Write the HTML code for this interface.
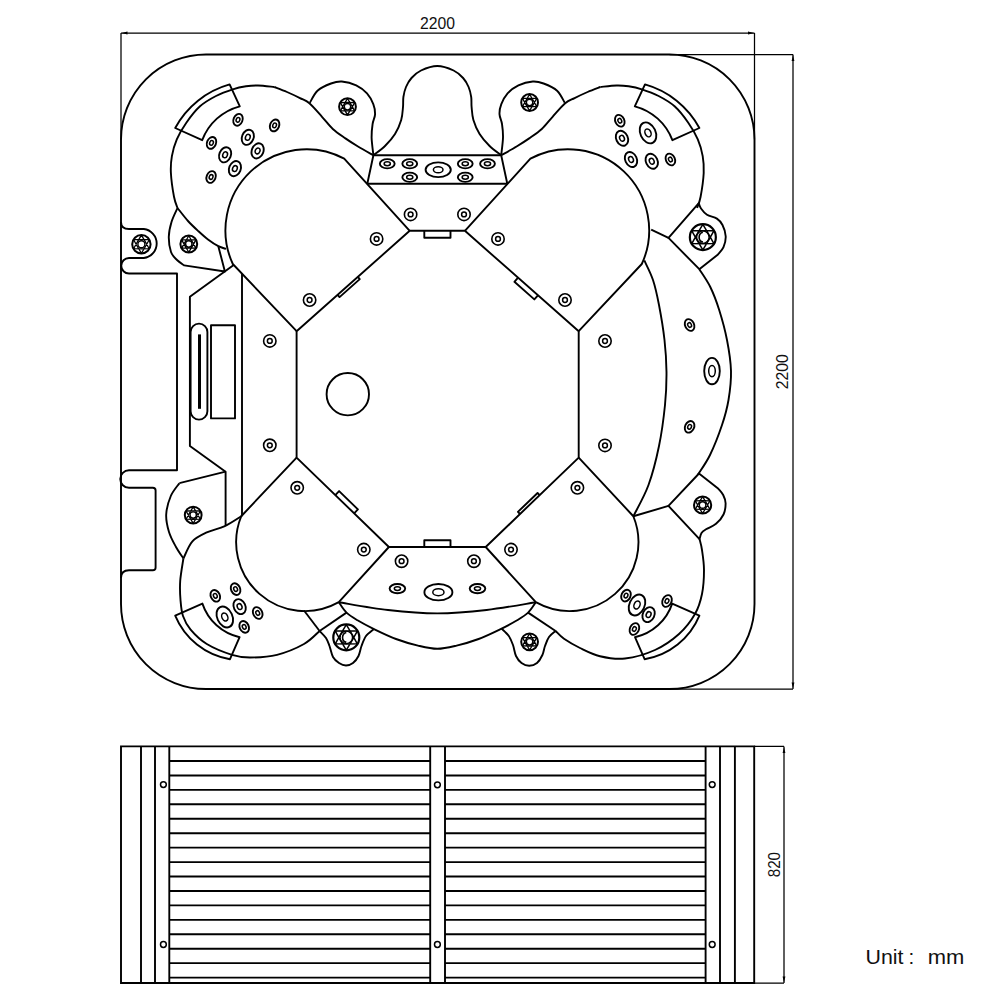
<!DOCTYPE html><html><head><meta charset="utf-8"><style>html,body{margin:0;padding:0;background:#fff;width:1000px;height:1000px;overflow:hidden}svg{display:block}</style></head><body>
<svg width="1000" height="1000" viewBox="0 0 1000 1000">
<g fill="none" stroke="#000" stroke-width="1.9" stroke-linejoin="round">
<path d="M121,139.5 A85,85 0 0 1 206,54.5 L669.5,54.5 A85,85 0 0 1 754.5,139.5 L754.5,604 A85,85 0 0 1 669.5,689 L206,689 A85,85 0 0 1 121,604 Z"/>
<path d="M121,222 Q121,229 129,229 L143.8,229 A14.6,14.6 0 0 1 143.8,258 L129,258 A7.5,7.5 0 0 0 129,273.5 L177,273.5 L177,470.3 L129,470.3 A8.75,8.75 0 0 0 129,487.8 L152.8,487.8 Q155.6,487.8 155.6,490.6 L155.6,567.4 Q155.6,570.2 152.8,570.2 L129,570.2 Q121,570.2 121,578"/>
<path d="M409.7,230.8 L464.9,230.8 L578.7,331.2 L578.7,457.6 L485.7,547 L388.9,547 L296.6,457.6 L296.6,331.2 Z"/>
<path d="M424.3,230.4 L424.3,237.8 L450.5,237.8 L450.5,230.4"/>
<path d="M424.3,547 L424.3,540.2 L450.5,540.2 L450.5,547"/>
<path d="M357.79,276.88 L359.78,279.13 L339.53,297.1 L337.54,294.86"/>
<path d="M518.04,277.69 L514.41,281.81 L534.32,299.38 L537.96,295.26"/>
<path d="M335.27,495.06 L339.1,491.11 L357.93,509.35 L354.1,513.3"/>
<path d="M539.64,495.15 L537.56,492.99 L517.94,511.85 L520.02,514.01"/>
<path d="M409.7,230.8 L344.2,158.6 A81,81 0 0 0 232.8,264 L296.6,331.2"/>
<path d="M464.9,230.8 L530.4,158.6 A81,81 0 0 1 641.8,264 L578.7,331.2"/>
<path d="M296.6,457.6 L241.25,516.25 A68.84,68.84 0 0 0 338.8,602.2 L388.9,547"/>
<path d="M578.7,457.6 L633.35,516.25 A68.84,68.84 0 0 1 535.8,602.2 L485.7,547"/>
<path d="M373.4,155.25 L501.2,155.25 M367.3,183.75 L507.3,183.75 M373.4,155.25 L367.3,183.75 M501.2,155.25 L507.3,183.75"/>
<path d="M373.4,155.25 C375.33,153.71 381.4,149.54 385,146 C388.6,142.46 392.3,138.33 395,134 C397.7,129.67 399.87,124.5 401.2,120 C402.53,115.5 402.63,110.83 403,107 C403.37,103.17 402.9,100.33 403.4,97 C403.9,93.67 404.65,90.17 406,87 C407.35,83.83 409,80.75 411.5,78 C414,75.25 416.7,72.5 421,70.5 C425.3,68.5 431.87,66 437.3,66 C442.73,66 449.3,68.5 453.6,70.5 C457.9,72.5 460.6,75.25 463.1,78 C465.6,80.75 467.25,83.83 468.6,87 C469.95,90.17 470.7,93.67 471.2,97 C471.7,100.33 471.23,103.17 471.6,107 C471.97,110.83 472.07,115.5 473.4,120 C474.73,124.5 476.9,129.67 479.6,134 C482.3,138.33 486,142.46 489.6,146 C493.2,149.54 499.27,153.71 501.2,155.25"/>
<path d="M177.5,208 C176.92,206.13 175.1,202.63 174,196.8 C172.9,190.97 171.25,179.77 170.9,173 C170.55,166.23 170.92,161.8 171.9,156.2 C172.88,150.6 174.37,145.02 176.8,139.4 C179.23,133.78 182.63,128.02 186.5,122.5 C190.37,116.98 195.08,110.72 200,106.3 C204.92,101.88 210.53,98.83 216,96 C221.47,93.17 227.8,90.92 232.8,89.3 C237.8,87.68 241.8,86.93 246,86.3 C250.2,85.67 253.3,85.38 258,85.5 C262.7,85.62 271.5,86.75 274.2,87"/>
<path d="M274.2,87 C276.33,87.83 282.7,90.15 287,92 C291.3,93.85 296.27,96.22 300,98.1 C303.73,99.98 305.73,100.18 309.4,103.3 C313.07,106.42 318.1,112.52 322,116.8 C325.9,121.08 328.9,125.4 332.8,129 C336.7,132.6 341.2,135.48 345.4,138.4 C349.6,141.32 353.33,143.69 358,146.5 C362.67,149.31 370.83,153.79 373.4,155.25"/>
<path d="M697.1,208 C697.68,206.13 699.5,202.63 700.6,196.8 C701.7,190.97 703.35,179.77 703.7,173 C704.05,166.23 703.68,161.8 702.7,156.2 C701.72,150.6 700.23,145.02 697.8,139.4 C695.37,133.78 691.97,128.02 688.1,122.5 C684.23,116.98 679.52,110.72 674.6,106.3 C669.68,101.88 664.07,98.83 658.6,96 C653.13,93.17 646.8,90.92 641.8,89.3 C636.8,87.68 632.8,86.93 628.6,86.3 C624.4,85.67 621.3,85.38 616.6,85.5 C611.9,85.62 603.1,86.75 600.4,87"/>
<path d="M600.4,87 C598.27,87.83 591.9,90.15 587.6,92 C583.3,93.85 578.33,96.22 574.6,98.1 C570.87,99.98 568.87,100.18 565.2,103.3 C561.53,106.42 556.5,112.52 552.6,116.8 C548.7,121.08 545.7,125.4 541.8,129 C537.9,132.6 533.4,135.48 529.2,138.4 C525,141.32 521.27,143.69 516.6,146.5 C511.93,149.31 503.77,153.79 501.2,155.25"/>
<path d="M309.85,102.85 C311.12,100.82 313.98,93.92 317.5,90.7 C321.02,87.48 326.95,85.03 331,83.5 C335.05,81.97 337.6,81.2 341.8,81.5 C346,81.8 352,83.32 356.2,85.3 C360.4,87.28 364.15,90.25 367,93.4 C369.85,96.55 371.95,100.75 373.3,104.2 C374.65,107.65 375.22,110.8 375.1,114.1 C374.98,117.4 373.18,120.1 372.6,124 C372.02,127.9 371.47,132.29 371.6,137.5 C371.73,142.71 373.1,152.29 373.4,155.25"/>
<path d="M564.75,102.85 C563.48,100.82 560.62,93.92 557.1,90.7 C553.58,87.48 547.65,85.03 543.6,83.5 C539.55,81.97 537,81.2 532.8,81.5 C528.6,81.8 522.6,83.32 518.4,85.3 C514.2,87.28 510.45,90.25 507.6,93.4 C504.75,96.55 502.65,100.75 501.3,104.2 C499.95,107.65 499.38,110.8 499.5,114.1 C499.62,117.4 501.42,120.1 502,124 C502.58,127.9 503.13,132.29 503,137.5 C502.87,142.71 501.5,152.29 501.2,155.25"/>
<path d="M177.5,208 C176.5,210.33 172.95,217.2 171.5,222 C170.05,226.8 168.88,231.8 168.8,236.8 C168.72,241.8 169.63,248.13 171,252 C172.37,255.87 174.8,257.77 177,260 C179.2,262.23 183,264.5 184.2,265.4 L224.9,271.5 L218.3,246.2"/>
<path d="M177.5,208 C179.25,210.17 184.5,217.12 188,221 C191.5,224.88 195.17,228.22 198.5,231.3 C201.83,234.38 204.7,237.02 208,239.5 C211.3,241.98 215.3,244.63 218.3,246.2 C221.3,247.77 224.72,248.45 226,248.9"/>
<path d="M233.7,264.9 L189.9,296.8 L189.9,446 L225.6,471.7 L225.6,525.5"/>
<path d="M242,273.7 L242,516.2"/>
<path d="M225.6,471.7 L179.4,483.2"/>
<path d="M179.4,483.2 C177.97,485.33 173,490.78 170.8,496 C168.6,501.22 166.5,508.5 166.2,514.5 C165.9,520.5 167.37,526.58 169,532 C170.63,537.42 173.6,542.58 176,547 C178.4,551.42 182.17,556.58 183.4,558.5"/>
<path d="M190.6,332 A8.4,8.4 0 0 1 207.4,332 L207.4,411.2 A8.4,8.4 0 0 1 190.6,411.2 Z"/>
<path d="M211,325.3 L235,325.3 L235,418.4 L211,418.4 Z"/>
<path d="M183.4,558.5 C184.9,555.65 188.5,545.75 192.4,541.4 C196.3,537.05 201.4,534.95 206.8,532.4 C212.2,529.85 219.06,528.79 224.8,526.1 C230.54,523.41 238.51,517.89 241.25,516.25"/>
<path d="M668.5,237.9 L698.8,203.2 C699.17,204.08 699.63,206.57 701,208.5 C702.37,210.43 704.35,213.07 707,214.75 C709.65,216.43 714.32,216.89 716.9,218.6 C719.48,220.31 721.03,222.07 722.5,225 C723.97,227.93 725.53,232.5 725.7,236.2 C725.87,239.9 724.78,244.15 723.5,247.2 C722.22,250.25 718.92,253.28 718,254.5 L699.3,269.2 Z"/>
<path d="M651.2,229.6 L668.5,237.9"/>
<path d="M699.3,269.2 C701.13,272.17 706.98,280.2 710.3,287 C713.62,293.8 716.42,301.17 719.2,310 C721.98,318.83 725.03,329.83 727,340 C728.97,350.17 730.75,361 731,371 C731.25,381 730,391 728.5,400 C727,409 725.08,415.83 722,425 C718.92,434.17 714,446.75 710,455 C706,463.25 700,471.25 698,474.5"/>
<path d="M644.3,260.4 C645.75,263.67 650.55,272.57 653,280 C655.45,287.43 657.08,295 659,305 C660.92,315 663.25,328.83 664.5,340 C665.75,351.17 666.42,361.17 666.5,372 C666.58,382.83 666.25,392.67 665,405 C663.75,417.33 661.75,432.67 659,446 C656.25,459.33 652.77,473.29 648.5,485 C644.23,496.71 635.88,511.04 633.35,516.25"/>
<path d="M668.45,505.9 L699,473.5 L718.4,488.8 C719.2,489.83 722,492.6 723.2,495 C724.4,497.4 725.55,499.95 725.6,503.2 C725.65,506.45 725.1,511.07 723.5,514.5 C721.9,517.93 718.92,521.33 716,523.8 C713.08,526.27 708.42,527.77 706,529.3 C703.58,530.83 702.58,531.35 701.5,533 C700.42,534.65 699.83,538.17 699.5,539.2 Z"/>
<path d="M633.35,516.25 L668.45,505.9"/>
<path d="M699.5,539 C699.92,540.83 701.25,544.83 702,550 C702.75,555.17 704,562.67 704,570 C704,577.33 703.5,586.67 702,594 C700.5,601.33 698.83,607.33 695,614 C691.17,620.67 685.67,628 679,634 C672.33,640 664,645.92 655,650 C646,654.08 634.17,657.47 625,658.5 C615.83,659.53 607.5,657.95 600,656.2 C592.5,654.45 586,650.9 580,648 C574,645.1 568.07,641.63 564,638.8 C559.93,635.97 557,632.3 555.6,631"/>
<path d="M555.6,631 L528.1,612.6"/>
<path d="M183.4,558.5 C182.87,562.25 180.68,574.08 180.2,581 C179.72,587.92 180.03,594.17 180.5,600 C180.97,605.83 181.32,611.07 183,616 C184.68,620.93 186.63,624.93 190.6,629.6 C194.57,634.27 199.9,639.8 206.8,644 C213.7,648.2 224.8,652.55 232,654.8 C239.2,657.05 242.5,657.5 250,657.5 C257.5,657.5 268,657.05 277,654.8 C286,652.55 296.9,647.97 304,644 C311.1,640.03 317,633.17 319.6,631"/>
<path d="M319.6,631 L346.5,612.6"/>
<path d="M304,610.5 L319.6,631"/>
<path d="M338.8,602.2 C347,603.5 371.58,608.13 388,610 C404.42,611.87 420.87,613.4 437.3,613.4 C453.73,613.4 470.18,611.87 486.6,610 C503.02,608.13 527.6,603.5 535.8,602.2"/>
<path d="M338.8,602.2 C340.08,603.93 343.38,609.58 346.5,612.6 C349.62,615.62 352.92,617.55 357.5,620.3 C362.08,623.05 367.58,625.98 374,629.1 C380.42,632.22 388.67,636.25 396,639 C403.33,641.75 411.12,643.97 418,645.6 C424.88,647.23 430.87,648.8 437.3,648.8 C443.73,648.8 449.72,647.23 456.6,645.6 C463.48,643.97 471.27,641.75 478.6,639 C485.93,636.25 494.18,632.22 500.6,629.1 C507.02,625.98 512.52,623.05 517.1,620.3 C521.68,617.55 524.98,615.62 528.1,612.6 C531.22,609.58 534.52,603.93 535.8,602.2"/>
<path d="M319.6,631 C320.67,632.17 324.35,635.5 326,638 C327.65,640.5 328.33,642.83 329.5,646 C330.67,649.17 331.42,654.17 333,657 C334.58,659.83 336.83,661.58 339,663 C341.17,664.42 343.67,665.5 346,665.5 C348.33,665.5 350.92,664.58 353,663 C355.08,661.42 357.08,658.83 358.5,656 C359.92,653.17 360.25,649.33 361.5,646 C362.75,642.67 363.98,638.8 366,636 C368.02,633.2 372.33,630.33 373.6,629.2"/>
<path d="M501.6,628.6 C502.8,629.83 506.9,633.27 508.8,636 C510.7,638.73 511.8,641.67 513,645 C514.2,648.33 514.58,653 516,656 C517.42,659 519.3,661.37 521.5,663 C523.7,664.63 526.62,665.8 529.2,665.8 C531.78,665.8 534.8,664.8 537,663 C539.2,661.2 541.07,657.83 542.4,655 C543.73,652.17 543.9,649 545,646 C546.1,643 547.23,639.5 549,637 C550.77,634.5 554.5,632 555.6,631"/>
<path d="M229.6,84.4 A89.37,89.37 0 0 0 175.2,128 L202.2,140.2 A54.98,54.98 0 0 1 239.8,106.3 Z"/>
<path d="M645,84.4 A89.37,89.37 0 0 1 699.4,128 L672.4,140.2 A54.98,54.98 0 0 0 634.8,106.3 Z"/>
<path d="M175.2,615.6 A72.21,72.21 0 0 0 230,659.2 L239.6,637.2 A50.96,50.96 0 0 1 202.4,603.6 Z"/>
<path d="M699.4,615.6 A72.21,72.21 0 0 1 644.6,659.2 L635,637.2 A50.96,50.96 0 0 0 672.2,603.6 Z"/>
<circle cx="347.8" cy="394.2" r="21.2"/>
<path d="M199.5,334.4 L199.5,408.8" stroke-width="3"/>
<circle cx="410.6" cy="214.4" r="6.2" stroke-width="1.6"/><circle cx="410.6" cy="214.4" r="2.4" stroke-width="1.5"/>
<circle cx="464" cy="214.4" r="6.2" stroke-width="1.6"/><circle cx="464" cy="214.4" r="2.4" stroke-width="1.5"/>
<circle cx="376.6" cy="238.9" r="6.2" stroke-width="1.6"/><circle cx="376.6" cy="238.9" r="2.4" stroke-width="1.5"/>
<circle cx="498" cy="238.9" r="6.2" stroke-width="1.6"/><circle cx="498" cy="238.9" r="2.4" stroke-width="1.5"/>
<circle cx="309.6" cy="300" r="6.2" stroke-width="1.6"/><circle cx="309.6" cy="300" r="2.4" stroke-width="1.5"/>
<circle cx="565" cy="300" r="6.2" stroke-width="1.6"/><circle cx="565" cy="300" r="2.4" stroke-width="1.5"/>
<circle cx="269.8" cy="340.9" r="6.2" stroke-width="1.6"/><circle cx="269.8" cy="340.9" r="2.4" stroke-width="1.5"/>
<circle cx="269.8" cy="445.3" r="6.2" stroke-width="1.6"/><circle cx="269.8" cy="445.3" r="2.4" stroke-width="1.5"/>
<circle cx="605" cy="341" r="6.2" stroke-width="1.6"/><circle cx="605" cy="341" r="2.4" stroke-width="1.5"/>
<circle cx="605" cy="445.4" r="6.2" stroke-width="1.6"/><circle cx="605" cy="445.4" r="2.4" stroke-width="1.5"/>
<circle cx="297.2" cy="487.8" r="6.2" stroke-width="1.6"/><circle cx="297.2" cy="487.8" r="2.4" stroke-width="1.5"/>
<circle cx="577.4" cy="487.8" r="6.2" stroke-width="1.6"/><circle cx="577.4" cy="487.8" r="2.4" stroke-width="1.5"/>
<circle cx="363.8" cy="549.6" r="6.2" stroke-width="1.6"/><circle cx="363.8" cy="549.6" r="2.4" stroke-width="1.5"/>
<circle cx="511" cy="549.6" r="6.2" stroke-width="1.6"/><circle cx="511" cy="549.6" r="2.4" stroke-width="1.5"/>
<circle cx="401.6" cy="561.2" r="6.2" stroke-width="1.6"/><circle cx="401.6" cy="561.2" r="2.4" stroke-width="1.5"/>
<circle cx="473.9" cy="561.2" r="6.2" stroke-width="1.6"/><circle cx="473.9" cy="561.2" r="2.4" stroke-width="1.5"/>
<g transform="translate(238,119.8) rotate(22)"><ellipse rx="4.5" ry="6.1"/><ellipse rx="1.8" ry="2.4" stroke-width="1.5"/></g>
<g transform="translate(274.6,125.4) rotate(22)"><ellipse rx="4.5" ry="6.1"/><ellipse rx="1.8" ry="2.4" stroke-width="1.5"/></g>
<g transform="translate(211.5,142.9) rotate(22)"><ellipse rx="4.5" ry="6.1"/><ellipse rx="1.8" ry="2.4" stroke-width="1.5"/></g>
<g transform="translate(211.1,177) rotate(22)"><ellipse rx="4.5" ry="6.1"/><ellipse rx="1.8" ry="2.4" stroke-width="1.5"/></g>
<g transform="translate(247.8,137.3) rotate(22)"><ellipse rx="5.8" ry="7.8"/><ellipse rx="2.3" ry="3.0" stroke-width="1.5"/></g>
<g transform="translate(257.6,150.9) rotate(22)"><ellipse rx="5.8" ry="7.8"/><ellipse rx="2.3" ry="3.0" stroke-width="1.5"/></g>
<g transform="translate(225.1,154.8) rotate(22)"><ellipse rx="5.8" ry="7.8"/><ellipse rx="2.3" ry="3.0" stroke-width="1.5"/></g>
<g transform="translate(234.9,168.6) rotate(22)"><ellipse rx="5.8" ry="7.8"/><ellipse rx="2.3" ry="3.0" stroke-width="1.5"/></g>
<g transform="translate(619.8,120.75) rotate(-25)"><ellipse rx="4.5" ry="6.1"/><ellipse rx="1.8" ry="2.4" stroke-width="1.5"/></g>
<g transform="translate(622,138.3) rotate(-25)"><ellipse rx="5.8" ry="7.8"/><ellipse rx="2.3" ry="3.0" stroke-width="1.5"/></g>
<g transform="translate(648,132.9) rotate(-25)"><ellipse rx="7.6" ry="11"/><ellipse rx="2.9" ry="4.1" stroke-width="1.5"/></g>
<g transform="translate(631,159.5) rotate(-25)"><ellipse rx="5.8" ry="7.8"/><ellipse rx="2.3" ry="3.0" stroke-width="1.5"/></g>
<g transform="translate(651.75,161.25) rotate(-25)"><ellipse rx="5.8" ry="7.8"/><ellipse rx="2.3" ry="3.0" stroke-width="1.5"/></g>
<g transform="translate(670.4,159.5) rotate(-25)"><ellipse rx="4.5" ry="6.1"/><ellipse rx="1.8" ry="2.4" stroke-width="1.5"/></g>
<g transform="translate(215.3,595.8) rotate(-25)"><ellipse rx="4.5" ry="6.1"/><ellipse rx="1.8" ry="2.4" stroke-width="1.5"/></g>
<g transform="translate(235.6,589.1) rotate(-25)"><ellipse rx="4.5" ry="6.1"/><ellipse rx="1.8" ry="2.4" stroke-width="1.5"/></g>
<g transform="translate(239.6,606.6) rotate(-25)"><ellipse rx="5.8" ry="7.8"/><ellipse rx="2.3" ry="3.0" stroke-width="1.5"/></g>
<g transform="translate(224.8,617) rotate(-25)"><ellipse rx="7.6" ry="11"/><ellipse rx="2.9" ry="4.1" stroke-width="1.5"/></g>
<g transform="translate(257.7,613) rotate(-25)"><ellipse rx="4.5" ry="6.1"/><ellipse rx="1.8" ry="2.4" stroke-width="1.5"/></g>
<g transform="translate(244.2,626.9) rotate(-25)"><ellipse rx="4.5" ry="6.1"/><ellipse rx="1.8" ry="2.4" stroke-width="1.5"/></g>
<g transform="translate(626,595.6) rotate(25)"><ellipse rx="4.5" ry="6.1"/><ellipse rx="1.8" ry="2.4" stroke-width="1.5"/></g>
<g transform="translate(637,605) rotate(25)"><ellipse rx="7.6" ry="11"/><ellipse rx="2.9" ry="4.1" stroke-width="1.5"/></g>
<g transform="translate(648.6,614.6) rotate(25)"><ellipse rx="5.8" ry="7.8"/><ellipse rx="2.3" ry="3.0" stroke-width="1.5"/></g>
<g transform="translate(634.4,629) rotate(25)"><ellipse rx="4.5" ry="6.1"/><ellipse rx="1.8" ry="2.4" stroke-width="1.5"/></g>
<g transform="translate(667,601) rotate(25)"><ellipse rx="4.5" ry="6.1"/><ellipse rx="1.8" ry="2.4" stroke-width="1.5"/></g>
<g transform="translate(689.6,325) rotate(-25)"><ellipse rx="4.5" ry="6.1"/><ellipse rx="1.8" ry="2.4" stroke-width="1.5"/></g>
<g transform="translate(712,371.1) rotate(0)"><ellipse rx="7.8" ry="13.2"/><ellipse rx="3.3" ry="5.6" stroke-width="1.5"/></g>
<g transform="translate(689.6,426.8) rotate(25)"><ellipse rx="4.5" ry="6.1"/><ellipse rx="1.8" ry="2.4" stroke-width="1.5"/></g>
<g transform="translate(387.25,163.75) rotate(0)"><ellipse rx="7.4" ry="4.6"/><ellipse rx="3.1" ry="1.9" stroke-width="1.5"/></g>
<g transform="translate(409.75,163.75) rotate(0)"><ellipse rx="7.4" ry="4.6"/><ellipse rx="3.1" ry="1.9" stroke-width="1.5"/></g>
<g transform="translate(465.25,163.75) rotate(0)"><ellipse rx="7.4" ry="4.6"/><ellipse rx="3.1" ry="1.9" stroke-width="1.5"/></g>
<g transform="translate(487.5,163.75) rotate(0)"><ellipse rx="7.4" ry="4.6"/><ellipse rx="3.1" ry="1.9" stroke-width="1.5"/></g>
<g transform="translate(409.75,177.25) rotate(0)"><ellipse rx="7.4" ry="4.6"/><ellipse rx="3.1" ry="1.9" stroke-width="1.5"/></g>
<g transform="translate(465.25,177.25) rotate(0)"><ellipse rx="7.4" ry="4.6"/><ellipse rx="3.1" ry="1.9" stroke-width="1.5"/></g>
<g transform="translate(438.2,169.75) rotate(0)"><ellipse rx="12.6" ry="7.4"/><ellipse rx="4.8" ry="3.1" stroke-width="1.5"/></g>
<g transform="translate(397.4,588.6) rotate(0)"><ellipse rx="7.8" ry="4.6"/><ellipse rx="3.1" ry="1.8" stroke-width="1.5"/></g>
<g transform="translate(477.5,588.6) rotate(0)"><ellipse rx="7.8" ry="4.6"/><ellipse rx="3.1" ry="1.8" stroke-width="1.5"/></g>
<g transform="translate(438.4,592.2) rotate(0)"><ellipse rx="14" ry="8.2"/><ellipse rx="5.6" ry="3.5" stroke-width="1.5"/></g>
<circle cx="141.4" cy="244.2" r="9.2" stroke-width="2.0"/><circle cx="141.4" cy="244.2" r="3.5" stroke-width="1.4"/><path d="M149.21,239.69 A331.38,331.38 0 0 1 141.4,253.22 M149.21,248.71 A331.38,331.38 0 0 1 133.59,248.71 M141.4,253.22 A331.38,331.38 0 0 1 133.59,239.69 M133.59,248.71 A331.38,331.38 0 0 1 141.4,235.18 M133.59,239.69 A331.38,331.38 0 0 1 149.21,239.69 M141.4,235.18 A331.38,331.38 0 0 1 149.21,248.71 " stroke-width="1.3"/>
<circle cx="188.8" cy="244" r="8.4" stroke-width="2.0"/><circle cx="188.8" cy="244" r="3.19" stroke-width="1.4"/><path d="M195.93,239.88 A302.57,302.57 0 0 1 188.8,252.23 M195.93,248.12 A302.57,302.57 0 0 1 181.67,248.12 M188.8,252.23 A302.57,302.57 0 0 1 181.67,239.88 M181.67,248.12 A302.57,302.57 0 0 1 188.8,235.77 M181.67,239.88 A302.57,302.57 0 0 1 195.93,239.88 M188.8,235.77 A302.57,302.57 0 0 1 195.93,248.12 " stroke-width="1.3"/>
<circle cx="347.5" cy="106.7" r="8.4" stroke-width="2.0"/><circle cx="347.5" cy="106.7" r="3.19" stroke-width="1.4"/><path d="M354.63,102.58 A302.57,302.57 0 0 1 347.5,114.93 M354.63,110.82 A302.57,302.57 0 0 1 340.37,110.82 M347.5,114.93 A302.57,302.57 0 0 1 340.37,102.58 M340.37,110.82 A302.57,302.57 0 0 1 347.5,98.47 M340.37,102.58 A302.57,302.57 0 0 1 354.63,102.58 M347.5,98.47 A302.57,302.57 0 0 1 354.63,110.82 " stroke-width="1.3"/>
<circle cx="529.6" cy="102.5" r="8.4" stroke-width="2.0"/><circle cx="529.6" cy="102.5" r="3.19" stroke-width="1.4"/><path d="M536.73,98.38 A302.57,302.57 0 0 1 529.6,110.73 M536.73,106.62 A302.57,302.57 0 0 1 522.47,106.62 M529.6,110.73 A302.57,302.57 0 0 1 522.47,98.38 M522.47,106.62 A302.57,302.57 0 0 1 529.6,94.27 M522.47,98.38 A302.57,302.57 0 0 1 536.73,98.38 M529.6,94.27 A302.57,302.57 0 0 1 536.73,106.62 " stroke-width="1.3"/>
<circle cx="702.85" cy="237.15" r="13.0" stroke-width="2.2"/><circle cx="702.85" cy="237.15" r="6.24" stroke-width="1.4"/><path d="M713.88,230.78 A468.26,468.26 0 0 1 702.85,249.89 M713.88,243.52 A468.26,468.26 0 0 1 691.82,243.52 M702.85,249.89 A468.26,468.26 0 0 1 691.82,230.78 M691.82,243.52 A468.26,468.26 0 0 1 702.85,224.41 M691.82,230.78 A468.26,468.26 0 0 1 713.88,230.78 M702.85,224.41 A468.26,468.26 0 0 1 713.88,243.52 " stroke-width="1.5"/><path d="M702.85,232.16 A5.2,5.2 0 0 0 702.85,242.14" stroke-width="1.6"/>
<circle cx="702.6" cy="505" r="8.6" stroke-width="2.0"/><circle cx="702.6" cy="505" r="3.27" stroke-width="1.4"/><path d="M709.9,500.79 A309.77,309.77 0 0 1 702.6,513.43 M709.9,509.21 A309.77,309.77 0 0 1 695.3,509.21 M702.6,513.43 A309.77,309.77 0 0 1 695.3,500.79 M695.3,509.21 A309.77,309.77 0 0 1 702.6,496.57 M695.3,500.79 A309.77,309.77 0 0 1 709.9,500.79 M702.6,496.57 A309.77,309.77 0 0 1 709.9,509.21 " stroke-width="1.3"/>
<circle cx="529.6" cy="641.8" r="8.4" stroke-width="2.0"/><circle cx="529.6" cy="641.8" r="3.19" stroke-width="1.4"/><path d="M536.73,637.68 A302.57,302.57 0 0 1 529.6,650.03 M536.73,645.92 A302.57,302.57 0 0 1 522.47,645.92 M529.6,650.03 A302.57,302.57 0 0 1 522.47,637.68 M522.47,645.92 A302.57,302.57 0 0 1 529.6,633.57 M522.47,637.68 A302.57,302.57 0 0 1 536.73,637.68 M529.6,633.57 A302.57,302.57 0 0 1 536.73,645.92 " stroke-width="1.3"/>
<circle cx="346.3" cy="637.4" r="13.0" stroke-width="2.2"/><circle cx="346.3" cy="637.4" r="6.24" stroke-width="1.4"/><path d="M357.33,631.03 A468.26,468.26 0 0 1 346.3,650.14 M357.33,643.77 A468.26,468.26 0 0 1 335.27,643.77 M346.3,650.14 A468.26,468.26 0 0 1 335.27,631.03 M335.27,643.77 A468.26,468.26 0 0 1 346.3,624.66 M335.27,631.03 A468.26,468.26 0 0 1 357.33,631.03 M346.3,624.66 A468.26,468.26 0 0 1 357.33,643.77 " stroke-width="1.5"/><path d="M346.3,632.41 A5.2,5.2 0 0 0 346.3,642.39" stroke-width="1.6"/>
<circle cx="193.2" cy="515.1" r="8.4" stroke-width="2.0"/><circle cx="193.2" cy="515.1" r="3.19" stroke-width="1.4"/><path d="M200.33,510.98 A302.57,302.57 0 0 1 193.2,523.33 M200.33,519.22 A302.57,302.57 0 0 1 186.07,519.22 M193.2,523.33 A302.57,302.57 0 0 1 186.07,510.98 M186.07,519.22 A302.57,302.57 0 0 1 193.2,506.87 M186.07,510.98 A302.57,302.57 0 0 1 200.33,510.98 M193.2,506.87 A302.57,302.57 0 0 1 200.33,519.22 " stroke-width="1.3"/>
</g>
<g fill="none" stroke="#000" stroke-width="1.9">
<path d="M121,746.4 L754.2,746.4 L754.2,983 L121,983 Z"/>
<path d="M141,746.4 L141,983"/>
<path d="M155,746.4 L155,983"/>
<path d="M169.3,746.4 L169.3,983"/>
<path d="M430.2,746.4 L430.2,983"/>
<path d="M445,746.4 L445,983"/>
<path d="M705.6,746.4 L705.6,983"/>
<path d="M720,746.4 L720,983"/>
<path d="M734.9,746.4 L734.9,983"/>
<path d="M169.3,761 L430.2,761 M445,761 L705.6,761"/>
<path d="M169.3,775.44 L430.2,775.44 M445,775.44 L705.6,775.44"/>
<path d="M169.3,789.88 L430.2,789.88 M445,789.88 L705.6,789.88"/>
<path d="M169.3,804.32 L430.2,804.32 M445,804.32 L705.6,804.32"/>
<path d="M169.3,818.76 L430.2,818.76 M445,818.76 L705.6,818.76"/>
<path d="M169.3,833.2 L430.2,833.2 M445,833.2 L705.6,833.2"/>
<path d="M169.3,847.64 L430.2,847.64 M445,847.64 L705.6,847.64"/>
<path d="M169.3,862.08 L430.2,862.08 M445,862.08 L705.6,862.08"/>
<path d="M169.3,876.52 L430.2,876.52 M445,876.52 L705.6,876.52"/>
<path d="M169.3,890.96 L430.2,890.96 M445,890.96 L705.6,890.96"/>
<path d="M169.3,905.4 L430.2,905.4 M445,905.4 L705.6,905.4"/>
<path d="M169.3,919.84 L430.2,919.84 M445,919.84 L705.6,919.84"/>
<path d="M169.3,934.28 L430.2,934.28 M445,934.28 L705.6,934.28"/>
<path d="M169.3,948.72 L430.2,948.72 M445,948.72 L705.6,948.72"/>
<path d="M169.3,963.16 L430.2,963.16 M445,963.16 L705.6,963.16"/>
<path d="M169.3,977.6 L430.2,977.6 M445,977.6 L705.6,977.6"/>
<circle cx="163.4" cy="784.6" r="2.9" stroke-width="1.5"/>
<circle cx="163.4" cy="944.5" r="2.9" stroke-width="1.5"/>
<circle cx="437.4" cy="784.8" r="2.9" stroke-width="1.5"/>
<circle cx="437.4" cy="944.5" r="2.9" stroke-width="1.5"/>
<circle cx="712.2" cy="784.6" r="2.9" stroke-width="1.5"/>
<circle cx="712.2" cy="944.5" r="2.9" stroke-width="1.5"/>
</g>
<g fill="none" stroke="#000" stroke-width="1.25">
<path d="M121,33 L754.5,33 M121,33 L121,139.5 M754.5,33 L754.5,139.5"/>
<path d="M669.5,54.5 L793,54.5 M793,54.5 L793,689 M669.5,689 L793,689"/>
<path d="M754.2,746.4 L784,746.4 M784,746.4 L784,983 M754.2,983 L784,983"/>
<path fill="#000" stroke="none" d="M121.5,33 L127.5,31.6 L127.5,34.4 Z M754,33 L748,31.6 L748,34.4 Z M793,55 L791.6,61 L794.4,61 Z M793,688.5 L791.6,682.5 L794.4,682.5 Z M784,747 L782.6,753 L785.4,753 Z M784,982.5 L782.6,976.5 L785.4,976.5 Z"/>
</g>
<text x="419.9" y="28.6" font-family="Liberation Sans, sans-serif" fill="#111" font-size="16" textLength="35" lengthAdjust="spacingAndGlyphs">2200</text>
<text transform="translate(788.4,389.2) rotate(-90)" font-family="Liberation Sans, sans-serif" fill="#111" font-size="16" textLength="35" lengthAdjust="spacingAndGlyphs">2200</text>
<text transform="translate(779.6,877.3) rotate(-90)" font-family="Liberation Sans, sans-serif" fill="#111" font-size="16" textLength="25.3" lengthAdjust="spacingAndGlyphs">820</text>
<text x="865.5" y="963.9" font-family="Liberation Sans, sans-serif" fill="#111" font-size="20.5" textLength="38" lengthAdjust="spacingAndGlyphs">Unit</text>
<text x="908.5" y="963.9" font-family="Liberation Sans, sans-serif" fill="#111" font-size="20.5">:</text>
<text x="927.8" y="963.9" font-family="Liberation Sans, sans-serif" fill="#111" font-size="20.5" textLength="36.6" lengthAdjust="spacingAndGlyphs">mm</text>
</svg></body></html>
